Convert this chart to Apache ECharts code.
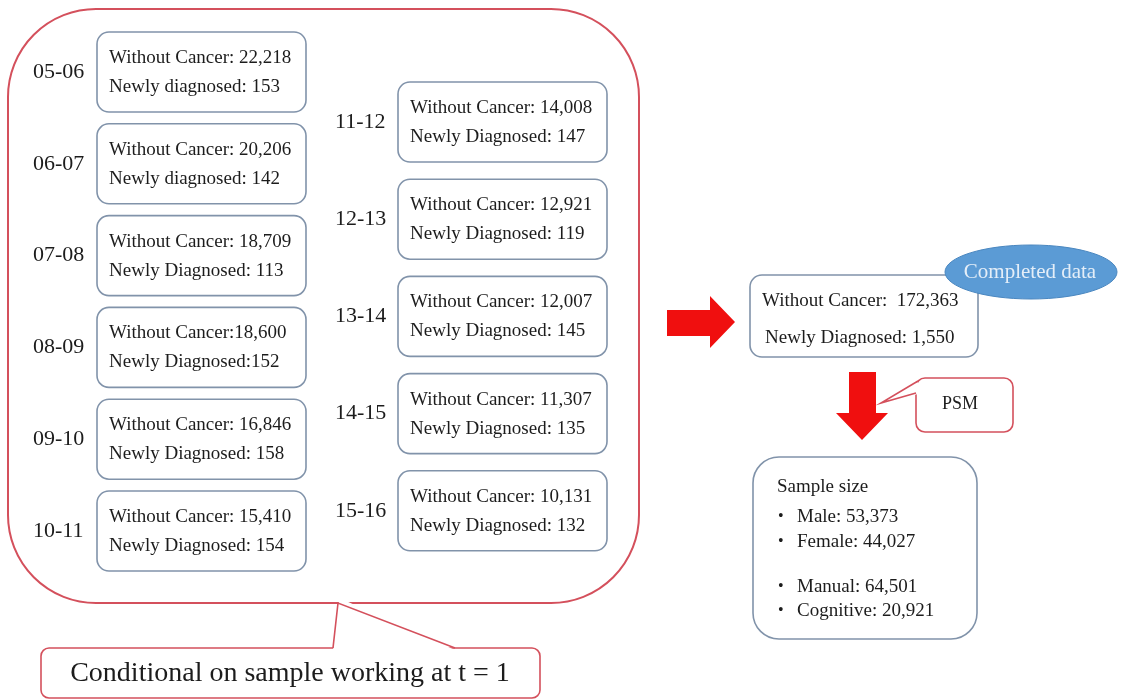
<!DOCTYPE html>
<html>
<head>
<meta charset="utf-8">
<script src="https://cdn.jsdelivr.net/npm/echarts@6/dist/echarts.min.js"></script>
<style>
  html, body { margin: 0; padding: 0; background: #fff; }
  #main { width: 1123px; height: 700px; }
</style>
</head>
<body>
<div id="main"></div>
<script>
// yearly cohorts (left column then right column)
let periods = ['05-06', '06-07', '07-08', '08-09', '09-10', '10-11',
               '11-12', '12-13', '13-14', '14-15', '15-16'];
let withoutCancer = [22218, 20206, 18709, 18600, 16846, 15410,
                     14008, 12921, 12007, 11307, 10131];
let newlyDiagnosed = [153, 142, 113, 152, 158, 154,
                      147, 119, 145, 135, 132];
let totalWithout = 172363;
let totalNewly = 1550;
let sampleGroups = ['Male', 'Female', 'Manual', 'Cognitive'];
let sampleCounts = [53373, 44027, 64501, 20921];

let fmt = function (v) { return v.toLocaleString('en-US'); };

let FONT = '"Liberation Serif", "Times New Roman", serif';
let RED = '#d4505c';
let BLUE_LINE = '#8193aa';
let TXT = '#1c1c1c';

function rbox(x, y, w, h, r, stroke, lw) {
    return {
        type: 'rect',
        shape: { x: x, y: y, width: w, height: h, r: r },
        style: { fill: '#fff', stroke: stroke, lineWidth: lw || 1.6 }
    };
}
function txt(x, y, s, size, opts) {
    opts = opts || {};
    return {
        type: 'text',
        x: x, y: y,
        style: {
            text: s,
            font: (opts.weight || 'normal') + ' ' + size + 'px ' + FONT,
            fill: opts.color || TXT,
            align: opts.align || 'left',
            verticalAlign: 'middle'
        }
    };
}

let els = [];

// big red container
els.push({
    type: 'rect',
    shape: { x: 8, y: 9, width: 631, height: 594, r: 88 },
    style: { fill: 'none', stroke: RED, lineWidth: 2 }
});

// bottom callout
els.push({
    type: 'rect',
    shape: { x: 41, y: 648, width: 499, height: 50, r: 8 },
    style: { fill: '#fff', stroke: RED, lineWidth: 1.6 }
});
els.push({
    type: 'polygon',
    shape: { points: [[339, 601], [346, 601], [455, 650], [333, 650]] },
    style: { fill: '#fff' }
});
els.push({
    type: 'polyline',
    shape: { points: [[333, 648], [338, 603], [455, 648]] },
    style: { stroke: RED, lineWidth: 1.6, fill: 'none' }
});
els.push(txt(290, 674, 'Conditional on sample working at t = 1', 28, { align: 'center' }));

// cohort boxes
periods.forEach(function (p, i) {
    let left = i < 6;
    let k = left ? i : i - 6;
    let bx = left ? 97 : 398;
    let by = left ? 32 + k * 91.8 : 82 + k * 97.2;
    let bw = 209, bh = 80;
    let cy = by + bh / 2;
    els.push(txt(left ? 33 : 335, cy, p, 22));
    els.push(rbox(bx, by, bw, bh, 12, BLUE_LINE));
    let sep = i === 3 ? ':' : ': ';
    let word = i < 2 ? 'Newly diagnosed' : 'Newly Diagnosed';
    els.push(txt(bx + 12, cy - 14, 'Without Cancer' + sep + fmt(withoutCancer[i]), 19));
    els.push(txt(bx + 12, cy + 15, word + sep + fmt(newlyDiagnosed[i]), 19));
});

// right arrow
els.push({
    type: 'polygon',
    shape: { points: [[667, 310], [710, 310], [710, 296], [735, 322], [710, 348], [710, 336], [667, 336]] },
    style: { fill: '#f00f0f' }
});

// completed data box
els.push(rbox(750, 275, 228, 82, 12, BLUE_LINE));
els.push(txt(762, 301, 'Without Cancer:  ' + fmt(totalWithout), 19));
els.push(txt(765, 338, 'Newly Diagnosed: ' + fmt(totalNewly), 19));
els.push({
    type: 'ellipse',
    shape: { cx: 1031, cy: 272, rx: 86, ry: 27 },
    style: { fill: '#5b9bd5', stroke: '#4a87c0', lineWidth: 1 }
});
els.push(txt(1030, 272, 'Completed data', 21, { align: 'center', color: '#e4eef8' }));

// down arrow
els.push({
    type: 'polygon',
    shape: { points: [[849, 372], [876, 372], [876, 413], [888, 413], [862, 440], [836, 413], [849, 413]] },
    style: { fill: '#f00f0f' }
});

// PSM callout
els.push({
    type: 'rect',
    shape: { x: 916, y: 378, width: 97, height: 54, r: 9 },
    style: { fill: '#fff', stroke: RED, lineWidth: 1.6 }
});
els.push({
    type: 'polygon',
    shape: { points: [[918, 382], [918, 394], [881, 403]] },
    style: { fill: '#fff' }
});
els.push({
    type: 'polyline',
    shape: { points: [[918, 381], [881, 403], [916, 393]] },
    style: { stroke: RED, lineWidth: 1.6, fill: 'none' }
});
els.push(txt(960, 404, 'PSM', 18, { align: 'center' }));

// sample size box
els.push(rbox(753, 457, 224, 182, 26, BLUE_LINE));
els.push(txt(777, 487, 'Sample size', 19));
let rowY = [517, 542, 587, 611];
sampleGroups.forEach(function (g, i) {
    els.push(txt(778, rowY[i], '\u2022', 16));
    els.push(txt(797, rowY[i], g + ': ' + fmt(sampleCounts[i]), 19));
});

let chart = echarts.init(document.getElementById('main'));
chart.setOption({
    backgroundColor: '#fff',
    animation: false,
    graphic: { elements: els }
});
</script>
</body>
</html>
